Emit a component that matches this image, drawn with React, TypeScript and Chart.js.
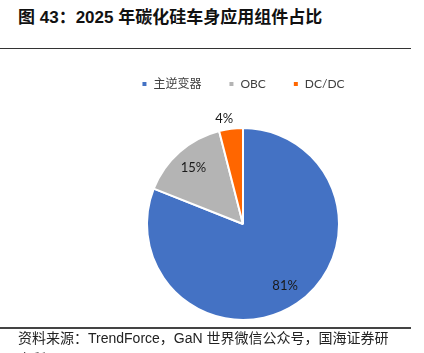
import React, { useEffect, useRef } from "react";
import { Chart, registerables } from "chart.js";

Chart.register(...registerables);

const categories = ["主逆变器", "OBC", "DC/DC"];
const shares = [81, 15, 4];
const colors = ["#4472C4", "#B4B4B4", "#FF6600"];

const labelPlugin = {
  id: "sliceLabels",
  afterDatasetsDraw(chart: any) {
    const ctx = chart.ctx;
    const meta = chart.getDatasetMeta(0);
    ctx.save();
    ctx.font = "13px Lato, 'Open Sans', sans-serif";
    ctx.fillStyle = "#1a1a1a";
    ctx.textBaseline = "middle";
    meta.data.forEach((arc: any, i: number) => {
      const { x, y, startAngle, endAngle, outerRadius } = arc.getProps(
        ["x", "y", "startAngle", "endAngle", "outerRadius"],
        true
      );
      const mid = (startAngle + endAngle) / 2;
      const outside = shares[i] < 8;
      const f = outside ? 1.06 : 0.78;
      const lx = x + Math.cos(mid) * outerRadius * f;
      const ly = y + Math.sin(mid) * outerRadius * f;
      if (outside) {
        ctx.textAlign = Math.cos(mid) < 0 ? "right" : "left";
        ctx.fillText(shares[i] + "%", lx + (Math.cos(mid) < 0 ? 3 : -3), ly - 4);
      } else {
        ctx.textAlign = "center";
        ctx.fillText(shares[i] + "%", lx, ly);
      }
    });
    ctx.restore();
  },
};

export default function App() {
  const ref = useRef<HTMLCanvasElement>(null);
  useEffect(() => {
    const chart = new Chart(ref.current!, {
      type: "pie",
      data: {
        labels: categories,
        datasets: [
          {
            data: shares,
            backgroundColor: colors,
            borderColor: "#ffffff",
            borderWidth: 2,
            radius: 96,
          } as any,
        ],
      },
      options: {
        animation: false,
        responsive: false,
        layout: { padding: { left: 62, right: 0, top: 11, bottom: 5 } },
        plugins: {
          legend: {
            position: "top",
            labels: {
              boxWidth: 6,
              boxHeight: 6,
              padding: 27,
              color: "#404040",
              font: { size: 12, family: "Lato, 'Open Sans', 'Noto Sans CJK SC', sans-serif" },
            },
          },
          tooltip: { enabled: false },
        },
      },
      plugins: [labelPlugin],
    });
    return () => chart.destroy();
  }, []);

  return (
    <div
      style={{
        position: "absolute",
        left: 0,
        top: 0,
        width: 424,
        height: 353,
        background: "#fff",
        overflow: "hidden",
      }}
    >
      <canvas
        ref={ref}
        width={424}
        height={313}
        style={{ position: "absolute", left: 0, top: 40, width: 424, height: 313 }}
      />
      <div
        style={{
          position: "absolute",
          left: 18,
          top: 3,
          fontFamily: "'Liberation Sans', 'Noto Sans CJK SC', sans-serif",
          fontWeight: "bold",
          fontSize: 17,
          color: "#111",
          whiteSpace: "nowrap",
        }}
      >
        图 43：2025 年碳化硅车身应用组件占比
      </div>
      <div
        style={{
          position: "absolute",
          left: 0,
          top: 48,
          width: 411,
          height: 1,
          background: "#333",
        }}
      />
      <div
        style={{
          position: "absolute",
          left: 0,
          top: 327,
          width: 411,
          height: 1.5,
          background: "#444",
        }}
      />
      <div
        style={{
          position: "absolute",
          left: 18,
          top: 328,
          width: 384,
          fontFamily: "'Liberation Sans', 'Noto Sans CJK SC', sans-serif",
          fontSize: 14,
          lineHeight: "21px",
          color: "#222",
        }}
      >
        资料来源：TrendForce，GaN 世界微信公众号，国海证券研究所
      </div>
    </div>
  );
}
